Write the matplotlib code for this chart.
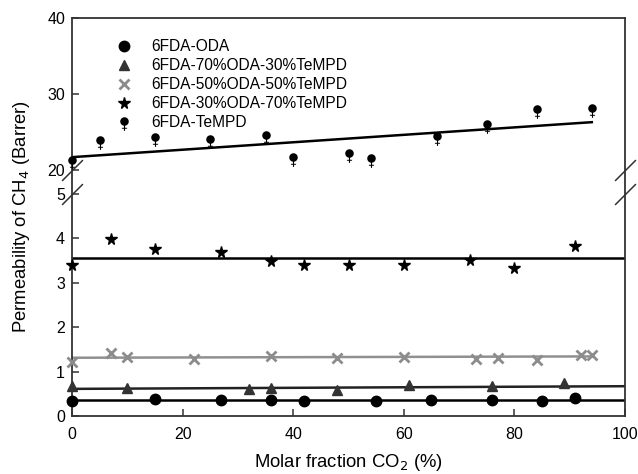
import numpy as np
import matplotlib
matplotlib.use("Agg")
import matplotlib.pyplot as plt
from matplotlib.path import Path
from matplotlib.lines import Line2D
import matplotlib.transforms as mtransforms

plt.rcParams['font.family'] = ['Liberation Sans', 'DejaVu Sans']

# ---------------- data ----------------
oda_x = [0, 15, 27, 36, 42, 55, 65, 76, 85, 91]
oda_y = [0.34, 0.38, 0.36, 0.36, 0.33, 0.33, 0.36, 0.36, 0.33, 0.40]
oda_fit_x = [0, 100]
oda_fit_y = [0.35, 0.35]

t70_x = [0, 10, 32, 36, 48, 61, 76, 89]
t70_y = [0.67, 0.63, 0.61, 0.63, 0.58, 0.69, 0.67, 0.74]
t70_fit_x = [0, 100]
t70_fit_y = [0.61, 0.67]

t50_x = [0, 7, 10, 22, 36, 48, 60, 73, 77, 84, 92, 94]
t50_y = [1.21, 1.42, 1.33, 1.28, 1.35, 1.30, 1.32, 1.28, 1.30, 1.27, 1.37, 1.37]
t50_fit_x = [0, 94]
t50_fit_y = [1.31, 1.34]

t30_x = [0, 7, 15, 27, 36, 42, 50, 60, 72, 80, 91]
t30_y = [3.39, 3.98, 3.75, 3.69, 3.48, 3.39, 3.39, 3.39, 3.50, 3.33, 3.82]
t30_fit_x = [0, 100]
t30_fit_y = [3.56, 3.56]

tempd_x = [0, 5, 15, 25, 35, 40, 50, 54, 66, 75, 84, 94]
tempd_y = [21.3, 23.9, 24.3, 24.1, 24.6, 21.7, 22.2, 21.6, 24.5, 26.1, 28.0, 28.2]
tempd_fit_x = [0, 94]
tempd_fit_y = [21.7, 26.3]

labels = ['6FDA-ODA', '6FDA-70%ODA-30%TeMPD', '6FDA-50%ODA-50%TeMPD',
          '6FDA-30%ODA-70%TeMPD', '6FDA-TeMPD']
y_ticks = [0, 1, 2, 3, 4, 5, 20, 30, 40]
x_ticks = [0, 20, 40, 60, 80, 100]

# ---------------- broken scale ----------------
GAP = 0.53
K = 0.171

def fwd(y):
    y = np.asarray(y, dtype=float)
    return np.where(y <= 5, y,
                    np.where(y < 20, 5 + (y - 5) / 15 * GAP,
                             5 + GAP + (y - 20) * K))

def inv(v):
    v = np.asarray(v, dtype=float)
    return np.where(v <= 5, v,
                    np.where(v < 5 + GAP, 5 + (v - 5) / GAP * 15,
                             20 + (v - 5 - GAP) / K))

# ---------------- marker for 6FDA-TeMPD ----------------
circ = Path.circle((0, 0), 1.0)
def rect(x0, y0, x1, y1):
    return Path([(x0, y0), (x1, y0), (x1, y1), (x0, y1), (x0, y0)],
                [Path.MOVETO, Path.LINETO, Path.LINETO, Path.LINETO, Path.CLOSEPOLY])
stem = rect(-0.13, -2.2, 0.13, -0.9)
bar = rect(-0.6, -1.7, 0.6, -1.48)
female = Path.make_compound_path(circ, stem, bar)

slash = Path([(-1, -1), (1, 1)], [Path.MOVETO, Path.LINETO])

# ---------------- figure ----------------
fig = plt.figure(figsize=(6.38, 4.74), dpi=100)
ax = fig.add_axes([72 / 638, 1 - 416 / 474, (625 - 72) / 638, (416 - 18) / 474])
ax.set_yscale('function', functions=(fwd, inv))
ax.set_xlim(0, 100)
ax.set_ylim(0, 40)

spine_c = '#333333'
for s in ax.spines.values():
    s.set_color(spine_c)
    s.set_linewidth(1.3)

# fits
ax.plot(oda_fit_x, oda_fit_y, color='black', lw=1.8, zorder=2)
ax.plot(t70_fit_x, t70_fit_y, color='#222222', lw=1.8, zorder=2)
ax.plot(t50_fit_x, t50_fit_y, color='#909090', lw=1.8, zorder=2)
ax.plot(t30_fit_x, t30_fit_y, color='black', lw=1.8, zorder=2)
ax.plot(tempd_fit_x, tempd_fit_y, color='black', lw=1.8, zorder=2)

# points
kw = dict(ls='none', clip_on=False, zorder=3)
ax.plot(oda_x, oda_y, marker='o', ms=7.5, color='black', **kw)
ax.plot(t70_x, t70_y, marker='^', ms=6.5, color='#333333', **kw)
ax.plot(t50_x, t50_y, marker='x', ms=7, mew=2, color='#8c8c8c', **kw)
ax.plot(t30_x, t30_y, marker='*', ms=8.5, color='black', **kw)
ax.plot(tempd_x, tempd_y, marker=female, ms=13.5, mew=0, color='black', **kw)

# break marks
trans = mtransforms.blended_transform_factory(ax.transAxes, ax.transData)
ax.plot([0, 0, 1, 1], [20, 5, 20, 5], ls='none', marker=slash, ms=15,
        mew=1.1, color=spine_c, transform=trans, clip_on=False, zorder=4)

# ticks
ax.set_yticks(y_ticks)
ax.set_yticklabels([str(t) for t in y_ticks])
ax.set_xticks(x_ticks)
ax.minorticks_off()
ax.tick_params(direction='in', length=5, width=1.1, color=spine_c,
               labelsize=11.5, top=False, right=False)
ax.tick_params(axis='y', pad=5)
ax.tick_params(axis='x', pad=8)

ax.set_xlabel('Molar fraction CO$_2$ (%)', fontsize=13.3, labelpad=7)
ax.set_ylabel('Permeability of CH$_4$ (Barrer)', fontsize=13.3, labelpad=11)

handles = [
    Line2D([], [], ls='none', marker='o', ms=7.5, color='black'),
    Line2D([], [], ls='none', marker='^', ms=6.5, color='#333333'),
    Line2D([], [], ls='none', marker='x', ms=7, mew=2, color='#8c8c8c'),
    Line2D([], [], ls='none', marker='*', ms=8.5, color='black'),
    Line2D([], [], ls='none', marker=female, ms=13.5, mew=0, color='black'),
]
ax.legend(handles, labels, loc='upper left', bbox_to_anchor=(0.068, 0.962),
          frameon=False, fontsize=11.2, handlelength=1.0, handletextpad=1.25,
          labelspacing=0.25, borderaxespad=0)

fig.savefig('out.png', dpi=100)
